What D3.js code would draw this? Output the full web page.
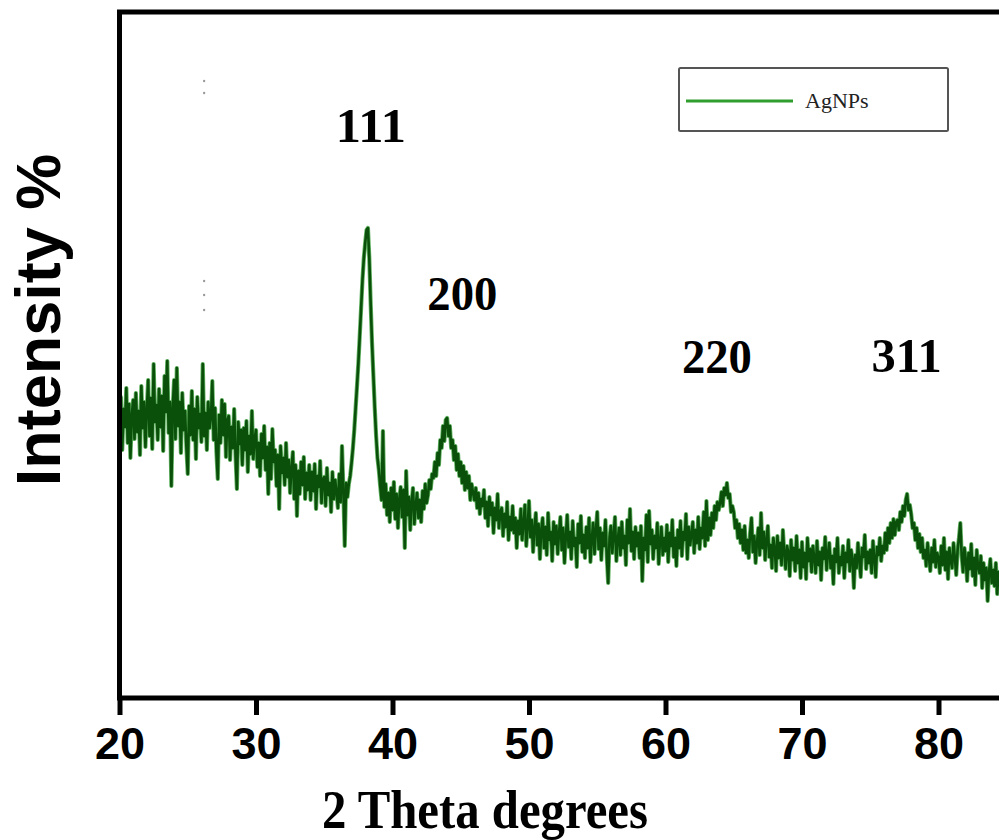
<!DOCTYPE html>
<html>
<head>
<meta charset="utf-8">
<script src="https://cdn.jsdelivr.net/npm/d3@7"></script>
<style>
  html, body { margin: 0; padding: 0; background: #fff; }
  svg { display: block; }
</style>
</head>
<body>
<div id="chart"></div>
<script>
// XRD pattern of silver nanoparticles (AgNPs), 2θ from 20° step 0.1°
const thetaStart = 20.0;
const thetaStep = 0.1;
const intensity = [
  // 20.x
  262, 301, 248, 289, 271, 310, 255, 294, 240, 283,
  // 21.x
  298, 259, 305, 266, 287, 243, 312, 270, 296, 251,
  // 22.x
  288, 318, 262, 300, 249, 334, 276, 293, 258, 309,
  // 23.x
  271, 302, 247, 322, 286, 337, 265, 296, 212, 290,
  // 24.x
  318, 259, 330, 272, 296, 245, 305, 268, 287, 251,
  // 25.x
  224, 292, 263, 307, 258, 289, 239, 301, 270, 284,
  // 26.x
  256, 334, 262, 285, 248, 296, 270, 281, 317, 258,
  // 27.x
  290, 246, 219, 283, 255, 298, 263, 294, 241, 278,
  // 28.x
  282, 238, 271, 250, 289, 243, 209, 276, 254, 268,
  // 29.x
  233, 270, 248, 277, 226, 262, 244, 287, 239, 259,
  // 30.x
  268, 231, 255, 222, 264, 240, 272, 228, 251, 204,
  // 31.x
  255, 219, 269, 236, 248, 212, 243, 189, 252, 225,
  // 32.x
  240, 213, 255, 221, 238, 205, 230, 246, 199, 233,
  // 33.x
  182, 227, 204, 236, 213, 241, 199, 225, 208, 233,
  // 34.x
  198, 226, 207, 234, 189, 222, 211, 237, 195, 219,
  // 35.x
  221, 192, 230, 203, 215, 186, 226, 199, 218, 205,
  // 36.x
  190, 224, 196, 252, 208, 152, 215, 201, 214, 222,
  // 37.x  (111 reflection)
  235, 250, 268, 290, 312, 335, 362, 390, 418, 440,
  // 38.x
  455, 468, 470, 440, 395, 355, 322, 290, 262, 240,
  // 39.x
  228, 212, 198, 267, 191, 214, 183, 205, 176, 210,
  // 40.x
  188, 216, 179, 204, 170, 199, 211, 181, 208, 150,
  // 41.x
  227, 183, 201, 168, 196, 210, 174, 193, 205, 180,
  // 42.x
  198, 176, 207, 189, 214, 195, 203, 218, 209, 224,
  // 43.x  (200 reflection)
  220, 236, 222, 245, 233, 258, 250, 272, 257, 278,
  // 44.x
  280, 262, 272, 250, 258, 238, 252, 228, 244, 222,
  // 45.x
  236, 215, 232, 208, 226, 210, 222, 198, 214, 205,
  // 46.x
  198, 210, 190, 205, 184, 199, 192, 208, 180, 196,
  // 47.x
  172, 201, 183, 195, 165, 190, 178, 204, 170, 186,
  // 48.x
  190, 162, 184, 171, 196, 158, 181, 168, 192, 165,
  // 49.x
  180, 150, 177, 164, 189, 158, 175, 193, 152, 171,
  // 50.x
  197, 161, 178, 146, 170, 185, 153, 174, 139, 168,
  // 51.x
  180, 150, 171, 143, 185, 158, 166, 137, 176, 154,
  // 52.x
  172, 144, 165, 181, 148, 170, 135, 162, 183, 151,
  // 53.x
  166, 139, 177, 152, 160, 131, 174, 155, 182, 146,
  // 54.x
  163, 140, 171, 150, 180, 136, 159, 175, 144, 168,
  // 55.x
  186, 149, 170, 138, 165, 152, 178, 141, 115, 160,
  // 56.x
  172, 145, 163, 181, 137, 158, 170, 143, 176, 150,
  // 57.x
  162, 133, 178, 155, 189, 147, 166, 139, 171, 152,
  // 58.x
  165, 140, 172, 117, 160, 148, 183, 136, 187, 154,
  // 59.x
  168, 139, 162, 150, 175, 134, 157, 171, 143, 160,
  // 60.x
  147, 173, 136, 165, 152, 178, 141, 160, 132, 168,
  // 61.x
  150, 177, 142, 166, 158, 184, 139, 171, 153, 164,
  // 62.x
  176, 145, 168, 155, 181, 149, 170, 160, 186, 152,
  // 63.x  (220 reflection)
  197, 158, 180, 163, 185, 170, 192, 178, 196, 188,
  // 64.x
  195, 206, 192, 210, 203, 215, 200, 204, 186, 192,
  // 65.x
  186, 170, 178, 160, 174, 155, 168, 148, 172, 145,
  // 66.x
  158, 140, 165, 180, 146, 162, 135, 155, 170, 143,
  // 67.x
  185, 150, 166, 138, 158, 172, 141, 153, 130, 160,
  // 68.x
  150, 127, 162, 140, 155, 133, 168, 145, 129, 152,
  // 69.x
  146, 122, 158, 138, 150, 127, 162, 135, 148, 120,
  // 70.x
  156, 131, 145, 119, 160, 137, 149, 126, 152, 140,
  // 71.x
  125, 157, 133, 146, 118, 150, 139, 161, 128, 144,
  // 72.x
  155, 130, 142, 114, 149, 136, 160, 125, 141, 133,
  // 73.x
  152, 120, 145, 136, 158, 127, 148, 139, 110, 143,
  // 74.x
  130, 155, 138, 121, 150, 141, 163, 129, 146, 135,
  // 75.x
  148, 125, 157, 139, 121, 151, 143, 160, 137, 152,
  // 76.x  (311 reflection)
  145, 165, 148, 170, 155, 175, 160, 179, 163, 176,
  // 77.x
  178, 168, 186, 176, 192, 182, 198, 204, 188, 193,
  // 78.x
  184, 170, 175, 158, 170, 150, 164, 146, 160, 140,
  // 79.x
  148, 132, 155, 140, 127, 150, 136, 158, 131, 145,
  // 80.x
  140, 125, 152, 133, 160, 128, 146, 119, 150, 137,
  // 81.x
  130, 155, 140, 123, 148, 160, 175, 142, 126, 150,
  // 82.x
  138, 117, 145, 129, 154, 122, 140, 113, 148, 131,
  // 83.x
  125, 142, 110, 135, 118, 130, 97, 126, 139, 115,
  // 84.x
  128, 112, 135, 104, 126, 118, 131, 109, 122, 116,
  // 85.x
  118, 127, 108, 121, 114
];

// Miller indices of the fcc silver reflections and where their labels sit
const peakLabels = ["111", "200", "220", "311"];
const peakLabelTheta = [35.85, 42.55, 61.2, 75.1];
const peakLabelIntensity = [556, 388, 325, 326];

const xTicks = [20, 30, 40, 50, 60, 70, 80];
const seriesName = "AgNPs";
const xTitle = "2 Theta degrees";
const yTitle = "Intensity %";

// stray marks near 2θ ≈ 26°
const strayTheta = [26.2, 26.2, 26.2, 26.2, 26.2];
const strayIntensity = [617, 605, 417, 403, 388];

const W = 999, H = 840;
const plotLeft = 119.5, plotBottom = 698, plotTop = 12;
const plotRight = plotLeft + 70 * 13.65;

const svg = d3.select("#chart").append("svg")
  .attr("width", W).attr("height", H)
  .attr("viewBox", `0 0 ${W} ${H}`);

const x = d3.scaleLinear().domain([20, 90]).range([plotLeft, plotRight]);
const y = d3.scaleLinear().domain([0, 686]).range([plotBottom, plotTop]);

const data = intensity.map((v, i) => ({ t: thetaStart + i * thetaStep, v }));

svg.append("defs").append("clipPath").attr("id", "plotClip")
  .append("rect").attr("x", plotLeft + 2).attr("y", plotTop + 2)
  .attr("width", plotRight - plotLeft - 4).attr("height", plotBottom - plotTop - 4);

const line = d3.line().x(d => x(d.t)).y(d => y(d.v));

const g = svg.append("g").attr("clip-path", "url(#plotClip)");
// soft lighter-green edge under the trace
g.append("path").datum(data)
  .attr("d", line)
  .attr("fill", "none")
  .attr("stroke", "#2f9a2f")
  .attr("stroke-opacity", 0.75)
  .attr("stroke-width", 4.2)
  .attr("stroke-linejoin", "round");
g.append("path").datum(data)
  .attr("d", line)
  .attr("fill", "none")
  .attr("stroke", "#0a500a")
  .attr("stroke-width", 2.6)
  .attr("stroke-linejoin", "round");

g.selectAll("circle.stray").data(strayTheta.map((t, i) => ({ t, v: strayIntensity[i] })))
  .enter().append("circle")
  .attr("class", "stray")
  .attr("cx", d => x(d.t)).attr("cy", d => y(d.v))
  .attr("r", 1.2).attr("fill", "#9a9a9a");

// frame: left and top sides
svg.append("path")
  .attr("d", `M${plotLeft},${plotBottom} L${plotLeft},${plotTop} L${plotRight + 10},${plotTop}`)
  .attr("fill", "none").attr("stroke", "#000").attr("stroke-width", 5)
  .attr("stroke-linejoin", "miter");

// bottom axis
const xAxis = d3.axisBottom(x).tickValues(xTicks).tickSize(17).tickPadding(12)
  .tickFormat(d3.format("d"));
const ax = svg.append("g").attr("transform", `translate(0,${plotBottom})`).call(xAxis);
ax.select(".domain").attr("stroke", "#000").attr("stroke-width", 5)
  .attr("d", `M${plotLeft - 2.5},0H${plotRight + 10}`);
ax.selectAll(".tick line").attr("stroke", "#000").attr("stroke-width", 5);
ax.selectAll(".tick text")
  .attr("fill", "#000")
  .attr("font-family", "'Liberation Sans', Arial, sans-serif")
  .attr("font-weight", "bold")
  .attr("font-size", 45)
  .attr("dy", "0.71em");

// axis titles
svg.append("text")
  .attr("x", 485).attr("y", 828)
  .attr("text-anchor", "middle")
  .attr("font-family", "'Liberation Serif', 'Times New Roman', serif")
  .attr("font-weight", "bold")
  .attr("font-size", 54)
  .attr("textLength", 326).attr("lengthAdjust", "spacingAndGlyphs")
  .text(xTitle);

svg.append("text")
  .attr("transform", "translate(60,320) rotate(-90)")
  .attr("text-anchor", "middle")
  .attr("font-family", "'Liberation Sans', Arial, sans-serif")
  .attr("font-weight", "bold")
  .attr("font-size", 63)
  .text(yTitle);

// reflection labels
svg.selectAll("text.peak").data(peakLabels).enter().append("text")
  .attr("class", "peak")
  .attr("x", (d, i) => x(peakLabelTheta[i]))
  .attr("y", (d, i) => y(peakLabelIntensity[i]))
  .attr("font-family", "'Liberation Serif', 'Times New Roman', serif")
  .attr("font-weight", "bold")
  .attr("font-size", 49)
  .attr("textLength", 70).attr("lengthAdjust", "spacingAndGlyphs")
  .text(d => d);

// legend
const lg = svg.append("g");
lg.append("rect").attr("x", 679).attr("y", 68).attr("width", 269).attr("height", 63)
  .attr("fill", "#fff").attr("stroke", "#555").attr("stroke-width", 2).attr("rx", 1.5);
lg.append("line").attr("x1", 686).attr("x2", 793).attr("y1", 101).attr("y2", 101)
  .attr("stroke", "#2f9e2f").attr("stroke-width", 3);
lg.append("text").attr("x", 805).attr("y", 108)
  .attr("font-family", "'Liberation Serif', 'Times New Roman', serif")
  .attr("font-size", 22).attr("fill", "#222")
  .text(seriesName);
</script>
</body>
</html>
